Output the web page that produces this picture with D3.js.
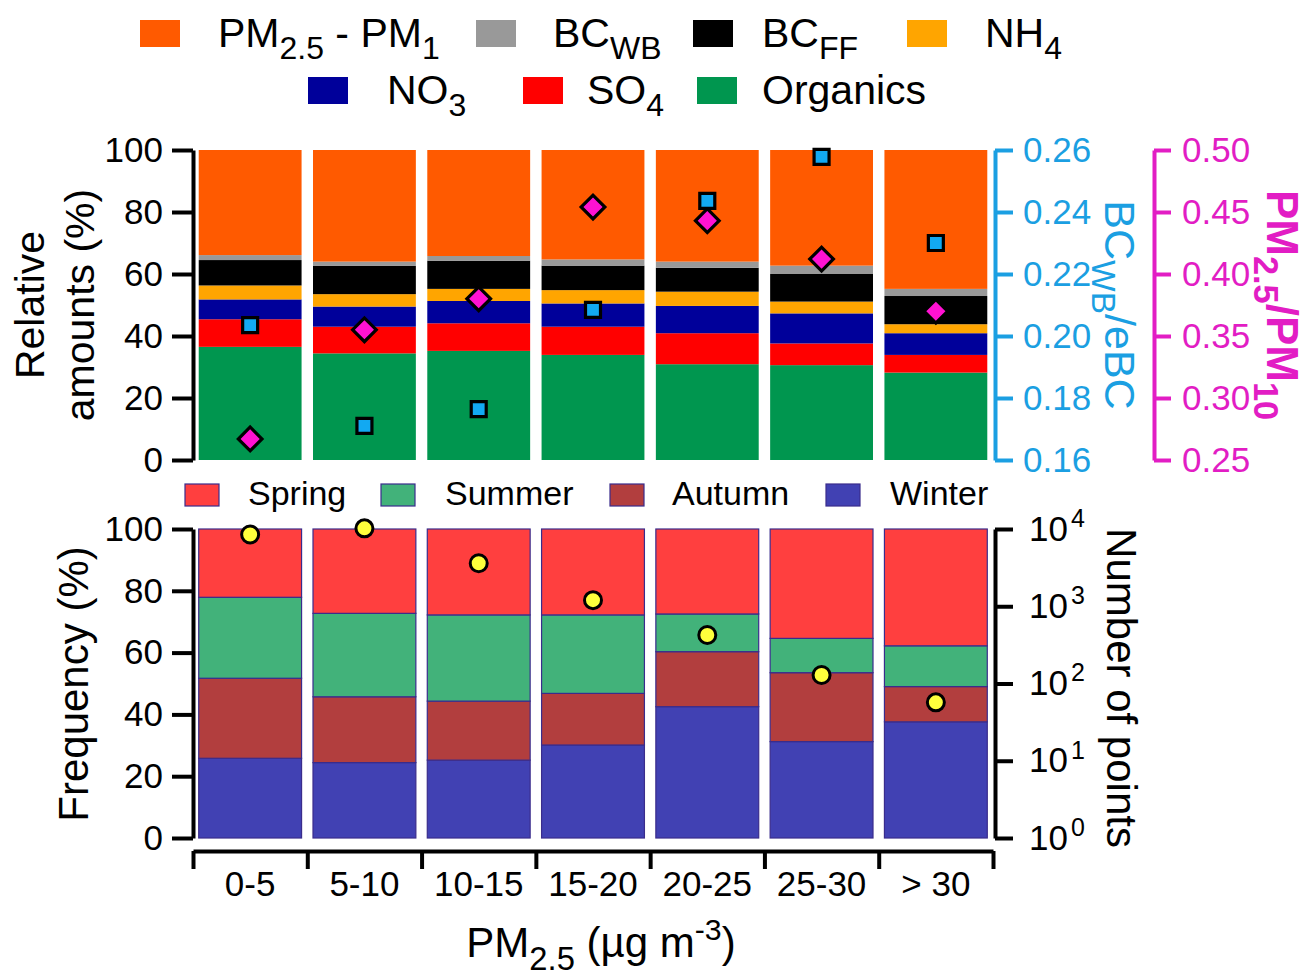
<!DOCTYPE html>
<html>
<head>
<meta charset="utf-8">
<script src="https://cdn.jsdelivr.net/npm/d3@7"></script>
<style>
  html, body { margin: 0; padding: 0; background: #fff; }
  svg { display: block; font-family: "Liberation Sans", Arial, sans-serif; }
</style>
</head>
<body>
<svg id="chart" width="1309" height="976"></svg>
<script>
// ---------------- DATA ----------------
const categories = ["0-5", "5-10", "10-15", "15-20", "20-25", "25-30", "> 30"];

// Top panel: relative amounts (%) stacked bottom -> top
const organics = [36.5, 34.4, 35.2, 33.9, 30.9, 30.6, 28.2];
const so4      = [8.9, 8.6, 8.9, 9.1, 10.0, 7.0, 5.7];
const no3      = [6.4, 6.5, 7.2, 7.5, 8.8, 9.7, 7.0];
const nh4      = [4.5, 4.0, 3.9, 4.3, 4.6, 3.8, 2.9];
const bcFF     = [8.2, 9.1, 9.1, 7.9, 7.7, 8.9, 9.1];
const bcWB     = [1.6, 1.4, 1.5, 2.0, 2.0, 2.7, 2.3];
const coarse   = [33.9, 36.0, 34.2, 35.3, 36.0, 37.3, 44.8]; // PM2.5 - PM1

// Top panel markers
const bcwbRatio = [0.2035, 0.171, 0.1764, 0.2084, 0.2436, 0.2578, 0.230]; // BCWB/eBC
const pmRatio   = [0.267, 0.355, 0.380, 0.454, 0.443, 0.412, 0.370];      // PM2.5/PM10

// Bottom panel: frequency (%) by season, stacked bottom -> top
const winter = [25.8, 24.4, 25.2, 30.1, 42.5, 31.2, 37.6];
const autumn = [25.9, 21.3, 19.1, 16.7, 17.8, 22.3, 11.4];
const summer = [26.2, 27.0, 27.9, 25.4, 12.2, 11.1, 13.2];
const spring = [22.1, 27.3, 27.8, 27.8, 27.5, 35.4, 37.8];

// Bottom panel markers: number of points
const nPoints = [8500, 10200, 3600, 1200, 425, 129, 57];

// Tick values
const pctTicks  = [0, 20, 40, 60, 80, 100];
const bcTicks   = [0.16, 0.18, 0.20, 0.22, 0.24, 0.26];
const pmTicks   = [0.25, 0.30, 0.35, 0.40, 0.45, 0.50];
const logTicks  = [1, 10, 100, 1000, 10000];

// ---------------- STYLE ----------------
const compKeys = ["organics", "so4", "no3", "nh4", "bcFF", "bcWB", "coarse"];
const compColors = {
  organics: "#00964F", so4: "#FF0000", no3: "#00009A", nh4: "#FFA500",
  bcFF: "#000000", bcWB: "#999999", coarse: "#FF5A00"
};
const seasonKeys = ["winter", "autumn", "summer", "spring"];
const seasonColors = { winter: "#4141B3", autumn: "#B23E3E", summer: "#42B27A", spring: "#FF3F3F" };
const BLUE = "#1B9FE2", MAGENTA = "#E21DC4";
const SQ_FILL = "#12A9F2", DIA_FILL = "#FF12D2", CIRC_FILL = "#FFFF3C";

const svg = d3.select("#chart");

// ---------------- SCALES ----------------
const x = d3.scaleBand().domain(categories).range([193, 993]).paddingInner(0.1).paddingOuter(0.05);
const xEdge = d3.scaleLinear().domain([0, categories.length]).range([193, 993]);

const yTop = d3.scaleLinear().domain([0, 100]).range([460, 150]);
const yBC  = d3.scaleLinear().domain([0.16, 0.26]).range([460, 150]);
const yPM  = d3.scaleLinear().domain([0.25, 0.50]).range([460, 150]);
const yBot = d3.scaleLinear().domain([0, 100]).range([838, 529]);
const yLog = d3.scaleLog().domain([1, 10000]).range([838, 529]);

// ---------------- TOP BARS ----------------
const topRows = categories.map((c, i) => ({
  cat: c, organics: organics[i], so4: so4[i], no3: no3[i], nh4: nh4[i],
  bcFF: bcFF[i], bcWB: bcWB[i], coarse: coarse[i]
}));
const topStack = d3.stack().keys(compKeys)(topRows);
svg.append("g").selectAll("g").data(topStack).join("g")
  .attr("fill", d => compColors[d.key])
  .selectAll("rect").data(d => d).join("rect")
  .attr("x", d => x(d.data.cat))
  .attr("width", x.bandwidth())
  .attr("y", d => yTop(d[1]))
  .attr("height", d => yTop(d[0]) - yTop(d[1]));

// ---------------- BOTTOM BARS ----------------
const botRows = categories.map((c, i) => ({
  cat: c, winter: winter[i], autumn: autumn[i], summer: summer[i], spring: spring[i]
}));
const botStack = d3.stack().keys(seasonKeys)(botRows);
svg.append("g").selectAll("g").data(botStack).join("g")
  .attr("fill", d => seasonColors[d.key])
  .attr("stroke", "#3A2C8C").attr("stroke-width", 1.2)
  .selectAll("rect").data(d => d).join("rect")
  .attr("x", d => x(d.data.cat))
  .attr("width", x.bandwidth())
  .attr("y", d => yBot(d[1]))
  .attr("height", d => yBot(d[0]) - yBot(d[1]));

// ---------------- AXES ----------------
function styleAxis(g, color, fontSize) {
  g.select(".domain").attr("stroke", color).attr("stroke-width", 4);
  g.selectAll(".tick line").attr("stroke", color).attr("stroke-width", 4);
  g.selectAll(".tick text").attr("fill", color).style("font-size", fontSize + "px")
    .style("font-family", "'Liberation Sans', Arial, sans-serif");
}

// top left
svg.append("g").attr("transform", "translate(193,0)")
  .call(d3.axisLeft(yTop).tickValues(pctTicks).tickSize(21).tickSizeOuter(0).tickPadding(9))
  .call(g => styleAxis(g, "#000", 35));
// top right blue
svg.append("g").attr("transform", "translate(995,0)")
  .call(d3.axisRight(yBC).tickValues(bcTicks).tickFormat(d3.format(".2f")).tickSize(18).tickSizeOuter(0).tickPadding(10))
  .call(g => styleAxis(g, BLUE, 35));
// top right magenta
svg.append("g").attr("transform", "translate(1154,0)")
  .call(d3.axisRight(yPM).tickValues(pmTicks).tickFormat(d3.format(".2f")).tickSize(17).tickSizeOuter(0).tickPadding(11))
  .call(g => styleAxis(g, MAGENTA, 35));
// bottom left
svg.append("g").attr("transform", "translate(193,0)")
  .call(d3.axisLeft(yBot).tickValues(pctTicks).tickSize(21).tickSizeOuter(0).tickPadding(9))
  .call(g => styleAxis(g, "#000", 35));
// bottom right log
const gLog = svg.append("g").attr("transform", "translate(995,0)")
  .call(d3.axisRight(yLog).tickValues(logTicks).tickFormat(() => "").tickSize(18).tickSizeOuter(0).tickPadding(16))
  .call(g => styleAxis(g, "#000", 35));
gLog.selectAll(".tick text").each(function(d) {
  const t = d3.select(this);
  t.text(null);
  t.append("tspan").text("10");
  t.append("tspan").attr("dy", "-0.55em").attr("dx", 3).style("font-size", "25px").text(Math.round(Math.log10(d)));
});
// x axis: edge ticks + labels
svg.append("g").attr("transform", "translate(0,851)")
  .call(d3.axisBottom(xEdge).tickValues(d3.range(categories.length + 1)).tickFormat(() => "").tickSize(18).tickSizeOuter(0))
  .call(g => styleAxis(g, "#000", 35));
svg.append("g").attr("transform", "translate(0,851)")
  .call(d3.axisBottom(x).tickSize(0).tickPadding(20))
  .call(g => { g.select(".domain").remove(); })
  .call(g => styleAxis(g, "#000", 35))
  .selectAll(".tick text").attr("dy", "0.72em");

// ---------------- MARKERS ----------------
svg.append("g").selectAll("path").data(pmRatio).join("path")
  .attr("d", d3.symbol(d3.symbolSquare, 280)())
  .attr("transform", (d, i) => `translate(${x(categories[i]) + x.bandwidth() / 2},${yPM(d)}) rotate(45)`)
  .attr("fill", DIA_FILL).attr("stroke", "#000").attr("stroke-width", 3.2);
svg.append("g").selectAll("path").data(bcwbRatio).join("path")
  .attr("d", d3.symbol(d3.symbolSquare, 225)())
  .attr("transform", (d, i) => `translate(${x(categories[i]) + x.bandwidth() / 2},${yBC(d)})`)
  .attr("fill", SQ_FILL).attr("stroke", "#000").attr("stroke-width", 3.2);
svg.append("g").selectAll("circle").data(nPoints).join("circle")
  .attr("cx", (d, i) => x(categories[i]) + x.bandwidth() / 2)
  .attr("cy", d => yLog(d))
  .attr("r", 8.5)
  .attr("fill", CIRC_FILL).attr("stroke", "#000").attr("stroke-width", 3);

// ---------------- TEXT HELPERS ----------------
function richText(sel, parts, size) {
  const t = sel.style("font-size", size + "px");
  let shift = 0;
  parts.forEach(p => {
    const ts = t.append("tspan").text(p.t);
    let target = 0;
    if (p.sub) { target = size * 0.3; ts.style("font-size", (size * 0.78) + "px"); }
    if (p.sup) { target = -size * 0.4; ts.style("font-size", (size * 0.72) + "px"); }
    const dy = target - shift;
    if (dy !== 0) ts.attr("dy", dy);
    shift = target;
  });
  return t;
}

// ---------------- TOP LEGEND ----------------
const topLegend = [
  { key: "coarse", sx: 140, tx: 218, row: 0, parts: [{ t: "PM" }, { t: "2.5", sub: true }, { t: " - PM" }, { t: "1", sub: true }] },
  { key: "bcWB", sx: 476, tx: 553, row: 0, parts: [{ t: "BC" }, { t: "WB", sub: true }] },
  { key: "bcFF", sx: 693, tx: 762, row: 0, parts: [{ t: "BC" }, { t: "FF", sub: true }] },
  { key: "nh4", sx: 907, tx: 985, row: 0, parts: [{ t: "NH" }, { t: "4", sub: true }] },
  { key: "no3", sx: 308, tx: 387, row: 1, parts: [{ t: "NO" }, { t: "3", sub: true }] },
  { key: "so4", sx: 523, tx: 587, row: 1, parts: [{ t: "SO" }, { t: "4", sub: true }] },
  { key: "organics", sx: 697, tx: 762, row: 1, parts: [{ t: "Organics" }] }
];
const rowY = [20, 77];
const rowBase = [47, 104];
topLegend.forEach(it => {
  svg.append("rect").attr("x", it.sx).attr("y", rowY[it.row]).attr("width", 40).attr("height", 27)
    .attr("fill", compColors[it.key]);
  richText(svg.append("text").attr("x", it.tx).attr("y", rowBase[it.row]).attr("fill", "#000"), it.parts, 41);
});

// ---------------- BOTTOM LEGEND ----------------
const botLegend = [
  { key: "spring", label: "Spring", sx: 185, tx: 248 },
  { key: "summer", label: "Summer", sx: 381, tx: 445 },
  { key: "autumn", label: "Autumn", sx: 610, tx: 672 },
  { key: "winter", label: "Winter", sx: 826, tx: 890 }
];
botLegend.forEach(it => {
  svg.append("rect").attr("x", it.sx).attr("y", 484).attr("width", 34).attr("height", 22)
    .attr("fill", seasonColors[it.key]).attr("stroke", "#3A2C8C").attr("stroke-width", 1.2);
  svg.append("text").attr("x", it.tx).attr("y", 505).style("font-size", "34px").attr("fill", "#000").text(it.label);
});

// ---------------- AXIS TITLES ----------------
svg.append("text").attr("transform", "translate(44,305) rotate(-90)").attr("text-anchor", "middle")
  .style("font-size", "41px").text("Relative");
svg.append("text").attr("transform", "translate(94,305) rotate(-90)").attr("text-anchor", "middle")
  .style("font-size", "41px").text("amounts (%)");
svg.append("text").attr("transform", "translate(88,684) rotate(-90)").attr("text-anchor", "middle")
  .style("font-size", "42px").text("Frequency (%)");
richText(svg.append("text").attr("transform", "translate(1105,305) rotate(90)").attr("text-anchor", "middle")
  .attr("fill", BLUE), [{ t: "BC" }, { t: "WB", sub: true }, { t: "/eBC" }], 43);
richText(svg.append("text").attr("transform", "translate(1267,305) rotate(90)").attr("text-anchor", "middle")
  .attr("fill", MAGENTA).style("font-weight", "bold"), [{ t: "PM" }, { t: "2.5", sub: true }, { t: "/PM" }, { t: "10", sub: true }], 44);
svg.append("text").attr("transform", "translate(1107,688) rotate(90)").attr("text-anchor", "middle")
  .style("font-size", "42px").text("Number of points");
richText(svg.append("text").attr("x", 601).attr("y", 957).attr("text-anchor", "middle"),
  [{ t: "PM" }, { t: "2.5", sub: true }, { t: " (µg m" }, { t: "-3", sup: true }, { t: ")" }], 42);
</script>
</body>
</html>
